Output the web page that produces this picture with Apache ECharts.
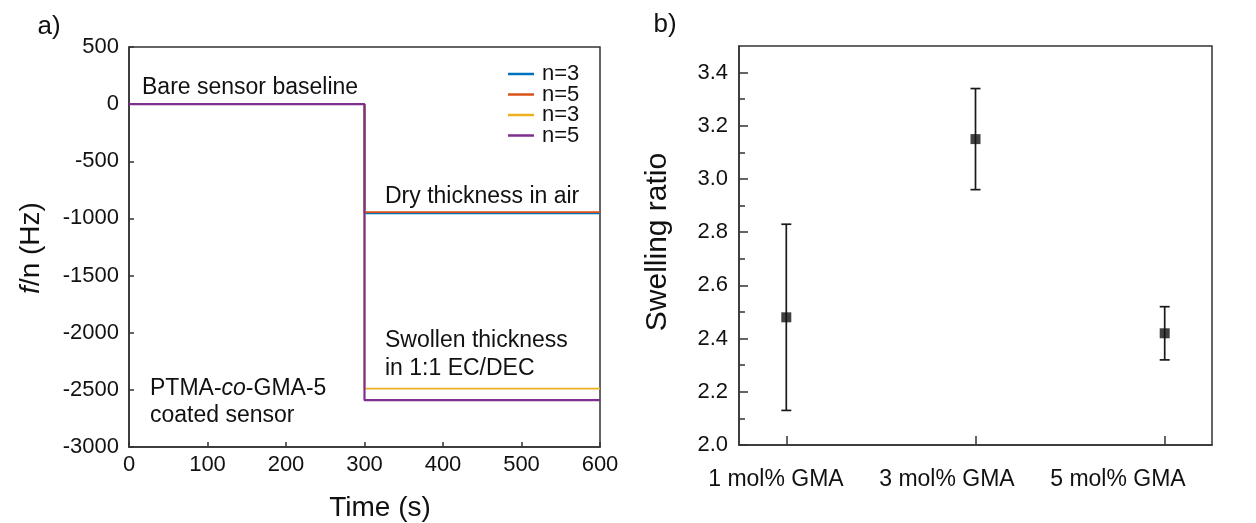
<!DOCTYPE html>
<html>
<head>
<meta charset="utf-8">
<script src="https://cdn.jsdelivr.net/npm/echarts@6/dist/echarts.min.js"></script>
<style>
html,body{margin:0;padding:0;background:#fff;}
#c{width:1256px;height:523px;}
</style>
</head>
<body>
<div id="c"></div>
<script>
// ---------- Panel a) data ----------
const timeS      = [0, 300, 300, 600];
const blueN3     = [0, 0, -955, -955];
const redN5      = [0, 0, -945, -945];
const yellowN3   = [0, 0, -2490, -2490];
const purpleN5   = [0, 0, -2590, -2590];
const seriesNames = ['n=3', 'n=5', 'n=3 ', 'n=5 '];
const legendLabels = ['n=3', 'n=5', 'n=3', 'n=5'];
const xTicksA = [0, 100, 200, 300, 400, 500, 600];
const yTicksA = [-3000, -2500, -2000, -1500, -1000, -500, 0, 500];

// ---------- Panel b) data ----------
const categories = ['1 mol% GMA', '3 mol% GMA', '5 mol% GMA'];
const catPos     = [1, 2, 3];
const ratioMean  = [2.48, 3.15, 2.42];
const ratioLow   = [2.13, 2.96, 2.32];
const ratioHigh  = [2.83, 3.34, 2.52];
const yMajorB = [2.0, 2.2, 2.4, 2.6, 2.8, 3.0, 3.2, 3.4];
const yMinorB = [2.1, 2.3, 2.5, 2.7, 2.9, 3.1, 3.3];

const FONT = '"Liberation Sans", Arial, Helvetica, sans-serif';
const TXT = '#111';
const AX = '#333';

function pairs(xs, ys){ return xs.map((x,i)=>[x, ys[i]]); }

const chart = echarts.init(document.getElementById('c'), null, {renderer:'canvas'});

const lineCommon = {type:'line', xAxisIndex:0, yAxisIndex:0, showSymbol:false, symbol:'none', animation:false};

const option = {
  animation: false,
  backgroundColor: '#fff',
  textStyle: {fontFamily: FONT},
  grid: [
    {left:129, top:47, width:471, height:400, show:true, borderColor:AX, borderWidth:1.5, backgroundColor:'transparent'},
    {left:739, top:46, width:473, height:399, show:true, borderColor:AX, borderWidth:1.5, backgroundColor:'transparent'}
  ],
  legend: {
    data: seriesNames,
    orient: 'vertical',
    left: 503, top: 58,
    itemWidth: 26, itemHeight: 2.5,
    itemGap: -1.5,
    icon: 'rect',
    formatter: function(n){ return legendLabels[seriesNames.indexOf(n)]; },
    textStyle: {fontSize:22, fontFamily:FONT, color:TXT, lineHeight:19.5, padding:[0,0,0,3]}
  },
  xAxis: [
    {gridIndex:0, type:'value', min:0, max:600, interval:100,
     axisLine:{show:true, onZero:false, lineStyle:{color:AX, width:1.5}},
     axisTick:{show:true, inside:true, length:5, lineStyle:{color:AX, width:1.5}},
     axisLabel:{fontSize:22, fontFamily:FONT, color:TXT, margin:7, formatter:function(v){ return String(v); }},
     splitLine:{show:false}},
    {gridIndex:1, type:'value', min:0.75, max:3.25,
     axisLine:{show:true, onZero:false, lineStyle:{color:AX, width:1.5}},
     axisTick:{show:true, inside:true, length:9, customValues:catPos, lineStyle:{color:AX, width:1.5}},
     axisLabel:{show:false},
     splitLine:{show:false}},
    {gridIndex:1, type:'value', min:0.784, max:3.55, position:'bottom',
     axisLine:{show:false}, axisTick:{show:false},
     axisLabel:{show:true, customValues:catPos, fontSize:23, fontFamily:FONT, color:TXT, margin:23,
       formatter:function(v){ const i = catPos.indexOf(Math.round(v)); return i>=0 ? categories[i] : ''; }},
     splitLine:{show:false}}
  ],
  yAxis: [
    {gridIndex:0, type:'value', min:-3000, max:500, interval:500,
     axisLine:{show:true, onZero:false, lineStyle:{color:AX, width:1.5}},
     axisTick:{show:true, inside:true, length:5, lineStyle:{color:AX, width:1.5}},
     axisLabel:{fontSize:22, fontFamily:FONT, color:TXT, margin:10, formatter:function(v){ return String(v); }},
     splitLine:{show:false}},
    {gridIndex:1, type:'value', min:2.0, max:3.5, position:'left',
     axisLine:{show:true, onZero:false, lineStyle:{color:AX, width:1.5}},
     axisTick:{show:true, inside:true, length:9, customValues:yMajorB, lineStyle:{color:AX, width:1.5}},
     axisLabel:{show:true, customValues:yMajorB, fontSize:22, fontFamily:FONT, color:TXT, margin:11,
       formatter:function(v){ return v.toFixed(1); }},
     splitLine:{show:false}},
    {gridIndex:1, type:'value', min:2.0, max:3.5, position:'left', offset:0,
     axisLine:{show:false},
     axisTick:{show:true, inside:true, length:6, customValues:yMinorB, lineStyle:{color:AX, width:1.5}},
     axisLabel:{show:false},
     splitLine:{show:false}}
  ],
  series: [
    Object.assign({}, lineCommon, {name:seriesNames[0], data:pairs(timeS, blueN3),   itemStyle:{color:'#0072BD'}, lineStyle:{color:'#0072BD', width:1.8}}),
    Object.assign({}, lineCommon, {name:seriesNames[1], data:pairs(timeS, redN5),    itemStyle:{color:'#D95319'}, lineStyle:{color:'#D95319', width:1.8}}),
    Object.assign({}, lineCommon, {name:seriesNames[2], data:pairs(timeS, yellowN3), itemStyle:{color:'#EDB120'}, lineStyle:{color:'#EDB120', width:1.8}}),
    Object.assign({}, lineCommon, {name:seriesNames[3], data:pairs(timeS, purpleN5), itemStyle:{color:'#7E2F8E'}, lineStyle:{color:'#7E2F8E', width:2.2}}),
    {
      type:'custom', xAxisIndex:1, yAxisIndex:1, animation:false,
      data: catPos.map((p,i)=>[p, ratioLow[i], ratioHigh[i]]),
      encode:{x:0, y:[1,2]},
      renderItem: function(params, api){
        const x = api.value(0), lo = api.value(1), hi = api.value(2);
        const a = api.coord([x, lo]), b = api.coord([x, hi]);
        const cap = 5;
        const st = {stroke:'#1a1a1a', lineWidth:1.7};
        return {type:'group', children:[
          {type:'line', shape:{x1:a[0], y1:a[1], x2:b[0], y2:b[1]}, style:st},
          {type:'line', shape:{x1:a[0]-cap, y1:a[1], x2:a[0]+cap, y2:a[1]}, style:st},
          {type:'line', shape:{x1:b[0]-cap, y1:b[1], x2:b[0]+cap, y2:b[1]}, style:st}
        ]};
      }
    },
    {
      type:'scatter', xAxisIndex:1, yAxisIndex:1, animation:false,
      symbol:'rect', symbolSize:10, z:5,
      itemStyle:{color:'#111'},
      data: catPos.map((p,i)=>[p, ratioMean[i]])
    }
  ],
  graphic: [
    {type:'text', x:49, y:27, style:{text:'a)', fontSize:26, fontFamily:FONT, fill:TXT, align:'center', verticalAlign:'middle'}},
    {type:'text', x:665, y:25, style:{text:'b)', fontSize:26, fontFamily:FONT, fill:TXT, align:'center', verticalAlign:'middle'}},
    {type:'text', x:380, y:508, style:{text:'Time (s)', fontSize:28, fontFamily:FONT, fill:TXT, align:'center', verticalAlign:'middle'}},
    {type:'text', x:31, y:248, rotation:Math.PI/2, style:{text:'{i|f}/n (Hz)', fontSize:28, fontFamily:FONT, fill:TXT, align:'center', verticalAlign:'middle',
      rich:{i:{fontStyle:'italic', fontSize:28, fontFamily:FONT, fill:TXT}}}},
    {type:'text', x:658, y:242, rotation:Math.PI/2, style:{text:'Swelling ratio', fontSize:30, fontFamily:FONT, fill:TXT, align:'center', verticalAlign:'middle'}},
    {type:'text', x:142, y:88, style:{text:'Bare sensor baseline', fontSize:23, fontFamily:FONT, fill:TXT, align:'left', verticalAlign:'middle'}},
    {type:'text', x:385, y:197, style:{text:'Dry thickness in air', fontSize:23, fontFamily:FONT, fill:TXT, align:'left', verticalAlign:'middle'}},
    {type:'text', x:385, y:341, style:{text:'Swollen thickness', fontSize:23, fontFamily:FONT, fill:TXT, align:'left', verticalAlign:'middle'}},
    {type:'text', x:385, y:369, style:{text:'in 1:1 EC/DEC', fontSize:23, fontFamily:FONT, fill:TXT, align:'left', verticalAlign:'middle'}},
    {type:'text', x:150, y:389, style:{text:'PTMA-{i|co}-GMA-5', fontSize:23, fontFamily:FONT, fill:TXT, align:'left', verticalAlign:'middle',
      rich:{i:{fontStyle:'italic', fontSize:23, fontFamily:FONT, fill:TXT}}}},
    {type:'text', x:150, y:416, style:{text:'coated sensor', fontSize:23, fontFamily:FONT, fill:TXT, align:'left', verticalAlign:'middle'}}
  ]
};
chart.setOption(option);
</script>
</body>
</html>
